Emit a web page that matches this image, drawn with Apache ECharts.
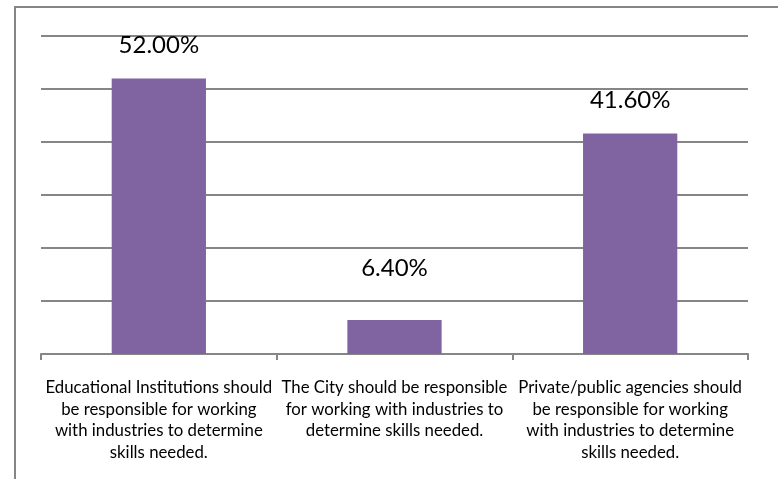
<!DOCTYPE html>
<html>
<head>
<meta charset="utf-8">
<script src="https://cdn.jsdelivr.net/npm/echarts@6/dist/echarts.min.js"></script>
<style>
html,body{margin:0;padding:0;background:#fff;}
#chart{width:778px;height:479px;}
</style>
</head>
<body>
<div id="chart"></div>
<script>
const categories = [
  "Educational Institutions should\nbe responsible for working\nwith industries to determine\nskills needed.",
  "The City should be responsible\nfor working with industries to\ndetermine skills needed.",
  "Private/public agencies should\nbe responsible for working\nwith industries to determine\nskills needed."
];
const values = [0.52, 0.064, 0.416];
const yMin = 0, yMax = 0.6, yInterval = 0.1;

const chart = echarts.init(document.getElementById('chart'), null, {renderer: 'canvas'});
const labelDist = [21, 40, 21];
chart.setOption({
  animation: false,
  backgroundColor: '#ffffff',
  textStyle: {fontFamily: 'Lato'},
  graphic: [{
    type: 'rect',
    shape: {x: 15, y: 7, width: 900, height: 600},
    style: {fill: 'none', stroke: '#868686', lineWidth: 2},
    silent: true
  }],
  grid: {left: 41, right: 30, top: 36, bottom: 125},
  xAxis: {
    type: 'category',
    data: categories,
    axisLine: {lineStyle: {color: '#868686', width: 2}},
    axisTick: {show: true, length: 6, lineStyle: {color: '#868686', width: 2}},
    axisLabel: {color: '#000', fontSize: 16.8, lineHeight: 21.5, margin: 23, interval: 0, fontFamily: 'Lato'}
  },
  yAxis: {
    type: 'value',
    min: yMin, max: yMax, interval: yInterval,
    axisLine: {show: false},
    axisTick: {show: false},
    axisLabel: {show: false},
    splitLine: {lineStyle: {color: '#868686', width: 2}}
  },
  series: [{
    type: 'bar',
    barCategoryGap: '60%',
    itemStyle: {color: '#8064A2'},
    data: values.map((v, i) => ({value: v, label: {distance: labelDist[i]}})),
    label: {
      show: true, position: 'top', color: '#000', fontSize: 24, fontFamily: 'Lato',
      formatter: p => (p.value * 100).toFixed(2) + '%'
    }
  }]
});
</script>
</body>
</html>
